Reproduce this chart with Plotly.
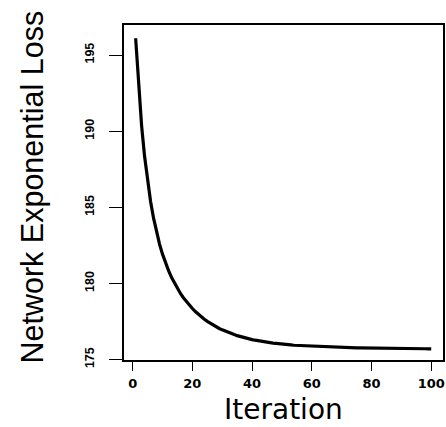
import plotly.graph_objects as go

iterations = list(range(1, 101))
loss = [
    196.10, 192.89, 190.35, 188.33, 186.71, 185.38, 184.28, 183.36, 182.58, 181.92,
    181.35, 180.85, 180.40, 180.01, 179.66, 179.34, 179.06, 178.80, 178.56, 178.35,
    178.15, 177.97, 177.80, 177.65, 177.51, 177.38, 177.26, 177.15, 177.04, 176.95,
    176.86, 176.78, 176.71, 176.64, 176.57, 176.51, 176.46, 176.41, 176.36, 176.31,
    176.27, 176.23, 176.20, 176.17, 176.14, 176.11, 176.08, 176.06, 176.03, 176.01,
    175.99, 175.97, 175.96, 175.94, 175.93, 175.91, 175.90, 175.89, 175.88, 175.86,
    175.86, 175.85, 175.84, 175.83, 175.82, 175.81, 175.81, 175.80, 175.79, 175.79,
    175.78, 175.78, 175.77, 175.77, 175.76, 175.76, 175.76, 175.75, 175.75, 175.75,
    175.74, 175.74, 175.74, 175.73, 175.73, 175.73, 175.73, 175.72, 175.72, 175.72,
    175.72, 175.72, 175.71, 175.71, 175.71, 175.71, 175.71, 175.71, 175.70, 175.70,
]
x_ticks = [0, 20, 40, 60, 80, 100]
y_ticks = [175, 180, 185, 190, 195]
x_title = "Iteration"
y_title = "Network Exponential Loss"

fig = go.Figure()
fig.add_trace(go.Scatter(x=iterations, y=loss, mode="lines",
                         line=dict(color="black", width=3.2), showlegend=False,
                         hoverinfo="skip"))

W, H = 446, 427
ml, mr, mt, mb = 124, 3, 25, 67
fig.update_layout(
    width=W, height=H,
    margin=dict(l=ml, r=mr, t=mt, b=mb, pad=0, autoexpand=False),
    paper_bgcolor="white", plot_bgcolor="white",
    xaxis=dict(range=[-2.9, 103.95], tickvals=x_ticks, ticktext=[str(v) for v in x_ticks],
               ticks="outside", ticklen=9, tickwidth=1, tickcolor="black",
               showline=True, mirror=True, linecolor="black", linewidth=1.5,
               showgrid=False, zeroline=False, ticklabelstandoff=2, automargin=False,
               tickfont=dict(family="DejaVu Sans", size=13, color="black", weight="bold")),
    yaxis=dict(range=[174.97, 196.97], tickvals=y_ticks, ticktext=[str(v) for v in y_ticks],
               ticks="outside", ticklen=13, tickwidth=1, tickcolor="black",
               showline=True, mirror=True, linecolor="black", linewidth=1.5,
               showgrid=False, zeroline=False, tickangle=-90, ticklabelstandoff=10,
               automargin=False,
               tickfont=dict(family="Liberation Sans", size=12.5, color="black", weight="bold")),
)
fig.add_annotation(text=x_title, xref="paper", yref="paper", x=0.5, y=0,
                   xanchor="center", yanchor="bottom", yshift=-67, borderpad=0,
                   showarrow=False,
                   font=dict(family="DejaVu Sans", size=28, color="black"))
fig.add_annotation(text=y_title, xref="paper", yref="paper", x=0, y=(360 - 187.5) / 335,
                   xanchor="center", yanchor="middle", xshift=-92, textangle=-90, showarrow=False,
                   font=dict(family="Liberation Sans", size=30.5, color="black"))
fig.write_html("out.html", config={"displayModeBar": False},
               post_script="document.body.style.margin='0';document.body.style.overflow='hidden';")
